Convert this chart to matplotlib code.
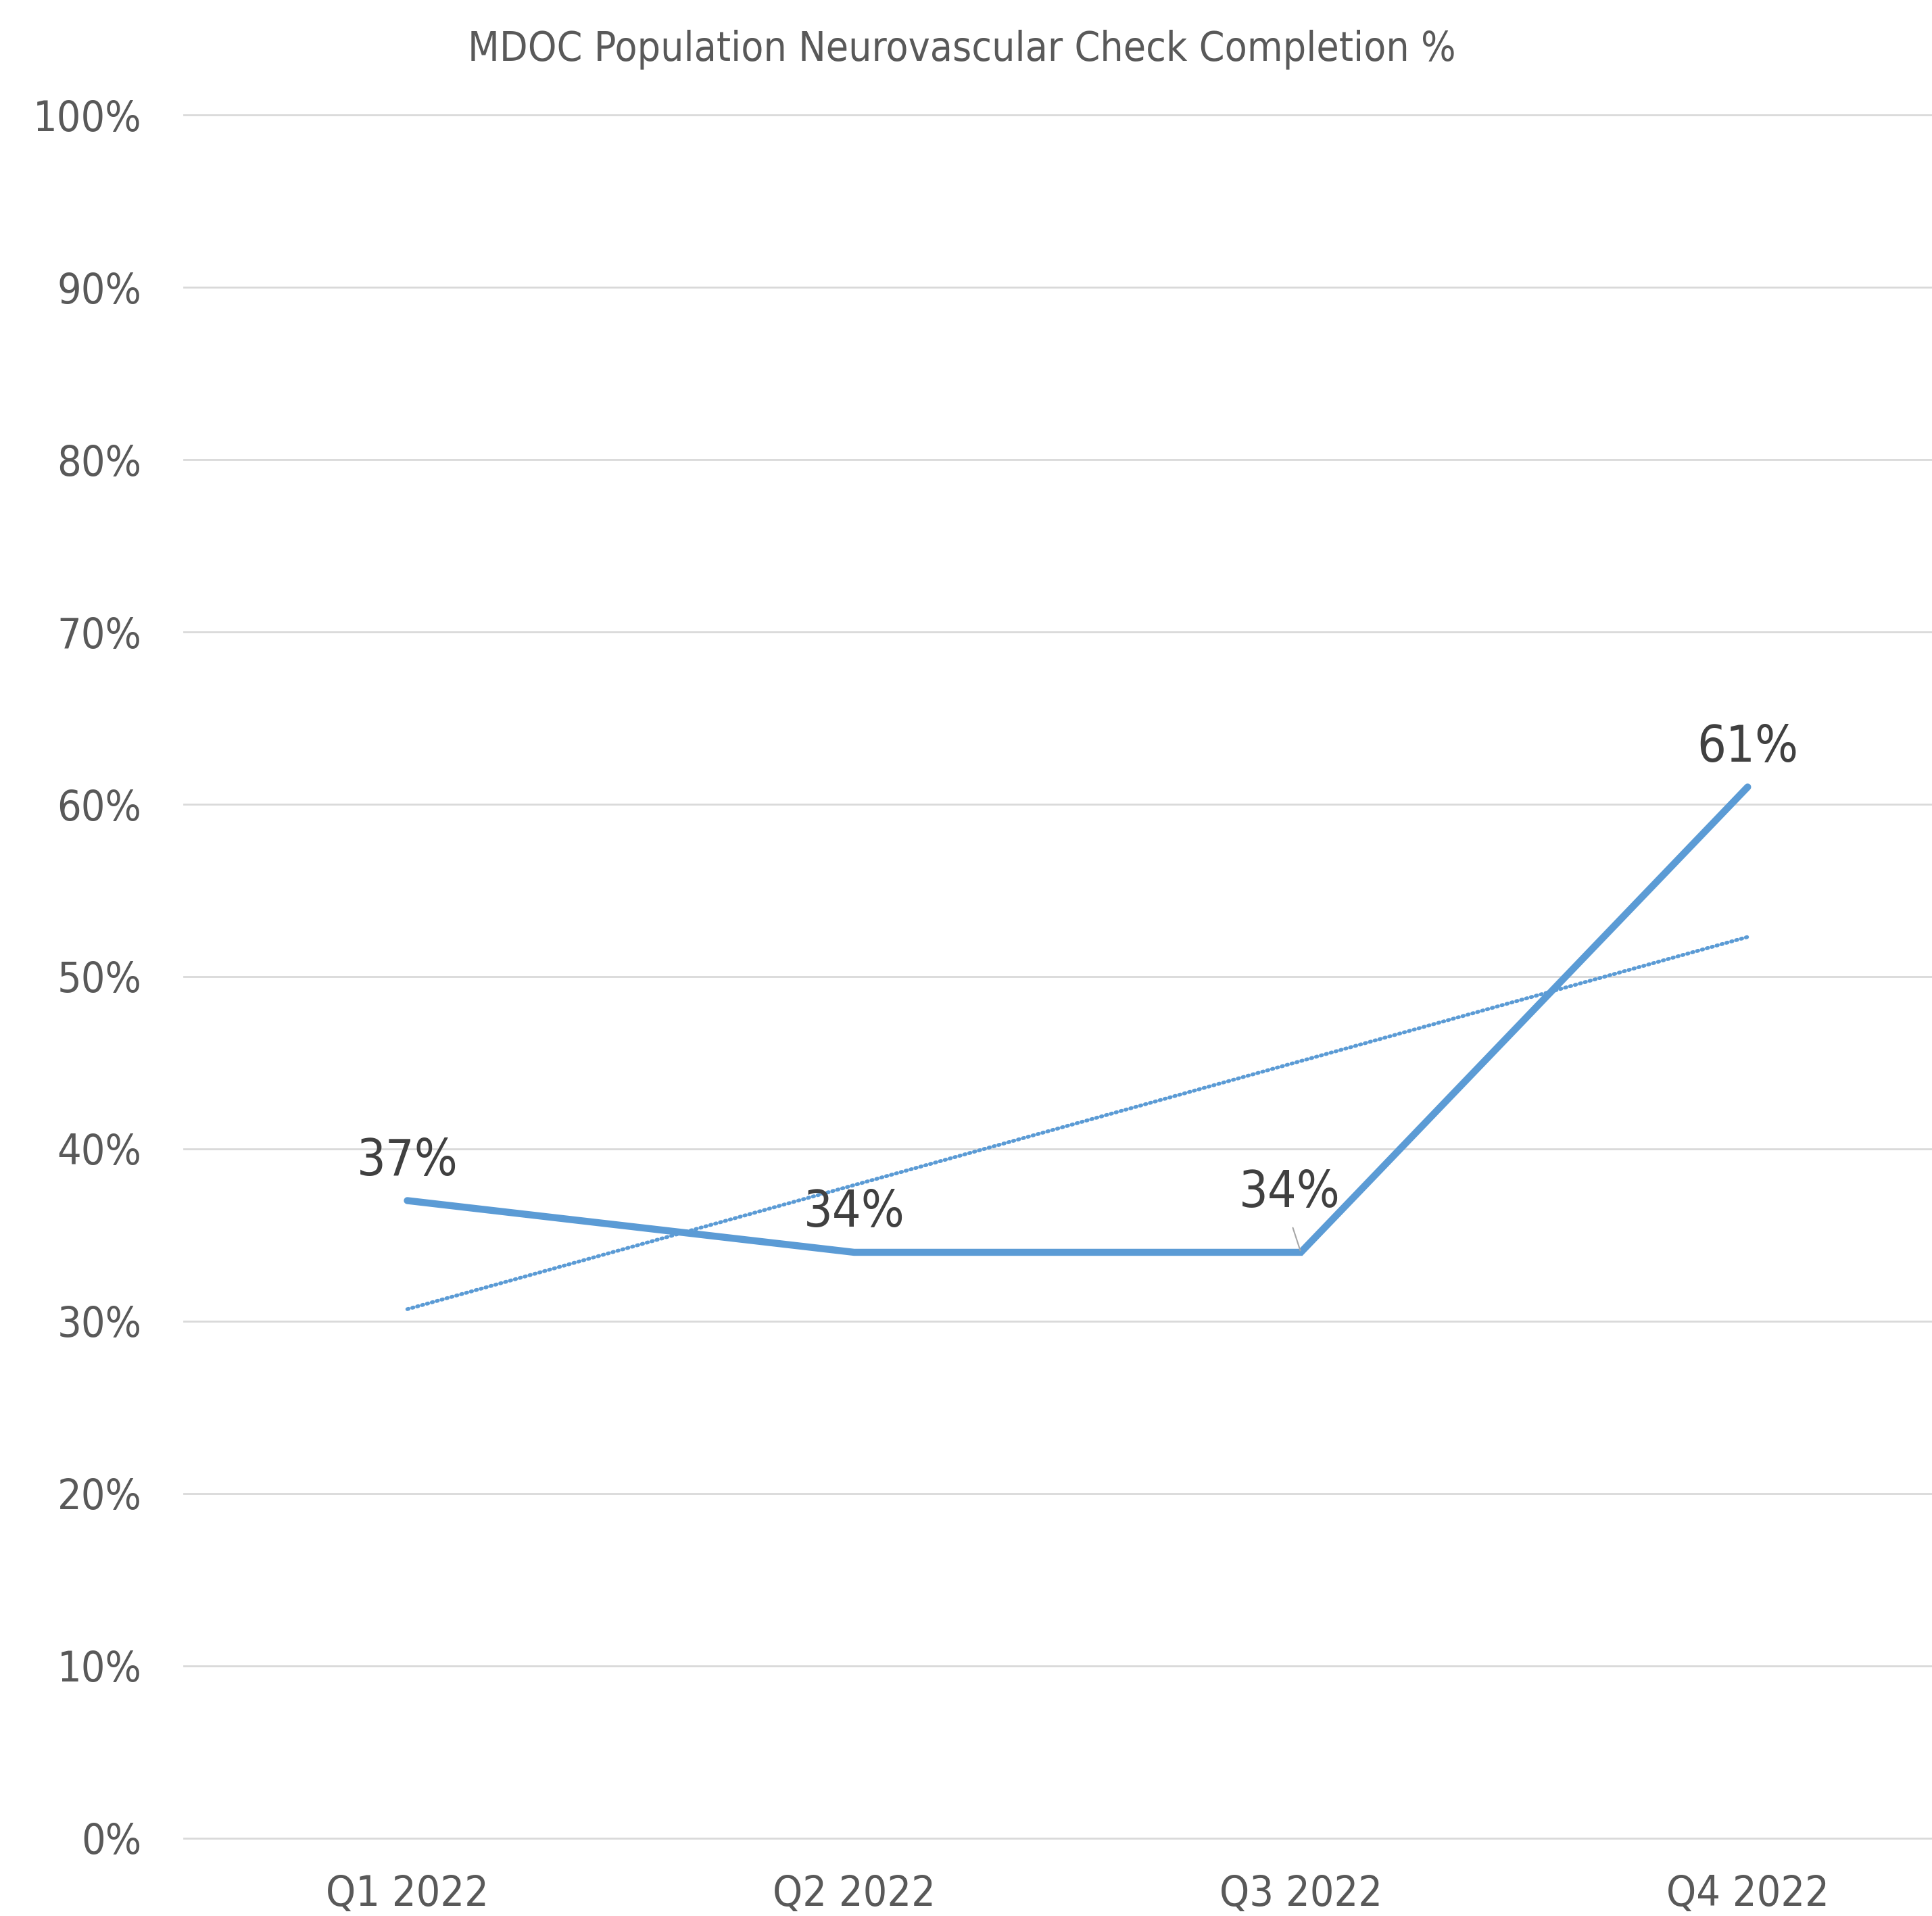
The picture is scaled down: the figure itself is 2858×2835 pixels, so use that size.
import numpy as np
import matplotlib
matplotlib.use("Agg")
import matplotlib.pyplot as plt
from matplotlib import font_manager

# data
quarters = ["Q1 2022", "Q2 2022", "Q3 2022", "Q4 2022"]
completion = [37, 34, 34, 61]      # %
yticks = [0, 10, 20, 30, 40, 50, 60, 70, 80, 90, 100]

# condensed face if it exists
names = {f.name for f in font_manager.fontManager.ttflist}
fam = "DejaVu Sans"
for cand in ["DejaVu Sans Condensed", "Liberation Sans Narrow"]:
    if cand in names:
        fam = cand
        break
plt.rcParams['font.family'] = [fam, 'DejaVu Sans']
plt.rcParams['font.stretch'] = 'condensed'

blue = '#5B9BD5'
grey = '#595959'

fig = plt.figure(figsize=(28.58, 28.35), dpi=100)
# plot area runs a little past the right edge, like the original
ax = fig.add_axes([0.0952, 0.0406, 0.9250, 0.8994])

x = np.arange(len(quarters))
ax.plot(x, completion, color=blue, lw=7.5, solid_capstyle='round',
        solid_joinstyle='miter', zorder=3)

# linear trendline (as Excel computes it)
a, b = np.polyfit(x, completion, 1)
ax.plot(x, a*x + b, color=blue, lw=4, linestyle=(0, (0.35, 1.0)),
        dash_capstyle='round', zorder=2)

# data labels
offs = [(0, 42), (0, 42), (-12, 63), (0, 42)]
for i, (v, o) in enumerate(zip(completion, offs)):
    kw = {}
    if i == 2:
        kw['arrowprops'] = dict(arrowstyle='-', color='#A6A6A6', lw=1.5,
                                relpos=(0.5, 0), shrinkA=9, shrinkB=2)
    ax.annotate(f"{v}%", (i, v), xytext=o, textcoords='offset points',
                ha='center', va='center', fontsize=54, color='#404040',
                zorder=4, **kw)

ax.set_xlim(-0.5, 3.5)
ax.set_ylim(0, 100)
ax.set_xticks(x)
ax.set_xticklabels(quarters)
ax.set_yticks(yticks)
ax.set_yticklabels([f"{t}%" for t in yticks])
ax.tick_params(axis='both', length=0, labelsize=45, labelcolor=grey)
ax.tick_params(axis='y', pad=45)
ax.tick_params(axis='x', pad=38)
ax.grid(axis='y', color='#D9D9D9', lw=2)
for gl in ax.get_ygridlines():
    gl.set_clip_on(False)
ax.set_axisbelow(True)
for s in ax.spines.values():
    s.set_visible(False)

fig.text(0.498, 0.974, "MDOC Population Neurovascular Check Completion %",
         ha='center', va='center', fontsize=43.5, color=grey)

fig.savefig("out.png", dpi=100)
